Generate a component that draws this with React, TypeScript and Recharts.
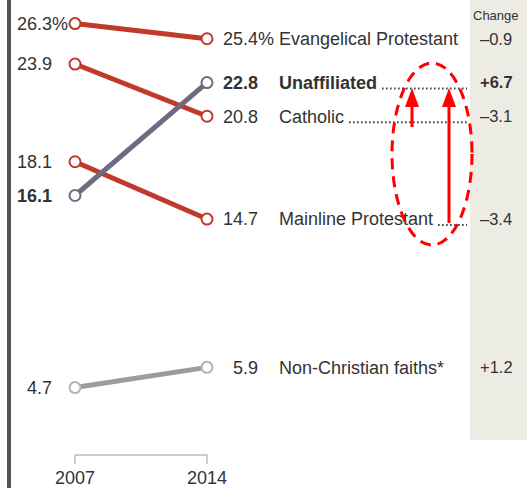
import { LineChart, Line, XAxis, YAxis, LabelList } from "recharts";

const years = [2007, 2014];
const groups = [
  "Evangelical Protestant",
  "Unaffiliated",
  "Catholic",
  "Mainline Protestant",
  "Non-Christian faiths*",
];
const evangelical = [26.3, 25.4];
const unaffiliated = [16.1, 22.8];
const catholic = [23.9, 20.8];
const mainline = [18.1, 14.7];
const nonChristian = [4.7, 5.9];
const changes = ["–0.9", "+6.7", "–3.1", "–3.4", "+1.2"];
const hasLeader = [false, true, true, true, false];

const keys = ["evangelical", "unaffiliated", "catholic", "mainline", "nonChristian"];
const values = [evangelical, unaffiliated, catholic, mainline, nonChristian];

const data = years.map((year, i) => {
  const row: Record<string, number | string> = { year: String(year) };
  keys.forEach((k, s) => {
    row[k] = values[s][i];
  });
  return row;
});

const RED = "#c0392b";
const lineColors = [RED, "#6e6a80", RED, RED, "#9c9c9c"];
const dotColors = [RED, "#6e6a80", RED, RED, "#b3b3b3"];

const FONT = '"Liberation Sans", Arial, sans-serif';
const TEXT = "#333";
const SIZE = 18;

let ctx: CanvasRenderingContext2D | null = null;
function textWidth(t: string, bold: boolean) {
  if (!ctx) ctx = document.createElement("canvas").getContext("2d");
  if (!ctx) return t.length * 9;
  ctx.font = `${bold ? 700 : 400} ${SIZE}px ${FONT}`;
  return ctx.measureText(t).width;
}

function makeLabel(s: number) {
  return (props: any) => {
    const { x, y, value, index } = props;
    const bold = s === 1;
    const common = {
      y,
      dy: "0.35em",
      fontSize: SIZE,
      fontFamily: FONT,
      fill: TEXT,
      fontWeight: bold ? 700 : 400,
    };
    const pct = s === 0;
    if (index === 0) {
      return (
        <g>
          <text {...common} x={x - 23} textAnchor="end">
            {Number(value).toFixed(1)}
          </text>
          {pct && (
            <text {...common} x={x - 23} fontWeight={400}>
              %
            </text>
          )}
        </g>
      );
    }
    const nameX = x + 72;
    const nameW = textWidth(groups[s], bold);
    return (
      <g>
        <text {...common} x={x + 51} textAnchor="end">
          {Number(value).toFixed(1)}
        </text>
        {pct && (
          <text {...common} x={x + 51} fontWeight={400}>
            %
          </text>
        )}
        <text {...common} x={nameX}>
          {groups[s]}
        </text>
        {hasLeader[s] && (
          <line
            x1={nameX + nameW + 5}
            x2={x + 260}
            y1={y + 6}
            y2={y + 6}
            stroke="#444"
            strokeWidth={2}
            strokeDasharray="1.6 2.4"
          />
        )}
        <text {...common} x={x + 273} fontSize={16.5}>
          {changes[s]}
        </text>
      </g>
    );
  };
}

// unaffiliated drawn last so it sits over the red lines
const drawOrder = [0, 2, 3, 4, 1];

export default function App() {
  return (
    <div style={{ position: "absolute", left: 0, top: 0, width: 527, height: 488, background: "#fff" }}>
      <div style={{ position: "absolute", left: 470, top: 0, width: 57, height: 440, background: "#edece4" }} />
      <div style={{ position: "absolute", left: 7, top: 0, width: 4, height: 488, background: "#555" }} />
      <div
        style={{
          position: "absolute",
          left: 473,
          top: 8,
          fontSize: 13,
          fontFamily: FONT,
          color: TEXT,
          whiteSpace: "nowrap",
        }}
      >
        Change
      </div>
      <div style={{ position: "absolute", left: 0, top: 0 }}>
        <LineChart width={527} height={488} data={data} margin={{ top: 0, right: 320, bottom: 0, left: 75 }}>
          <XAxis
            dataKey="year"
            height={33}
            tickSize={9}
            tickMargin={7}
            axisLine={{ stroke: "#999" }}
            tickLine={{ stroke: "#999" }}
            tick={{ fontSize: SIZE, fill: TEXT, fontFamily: FONT }}
          />
          <YAxis hide type="number" domain={[0.7, 27.7]} allowDataOverflow />
          {drawOrder.map((s) => (
            <Line
              key={keys[s]}
              dataKey={keys[s]}
              stroke={lineColors[s]}
              strokeWidth={5}
              dot={{ r: 5.5, fill: "#fff", stroke: dotColors[s], strokeWidth: 2 }}
              activeDot={false}
              isAnimationActive={false}
            >
              <LabelList dataKey={keys[s]} content={makeLabel(s)} />
            </Line>
          ))}
        </LineChart>
      </div>
      <svg
        width={527}
        height={488}
        style={{ position: "absolute", left: 0, top: 0, pointerEvents: "none" }}
      >
        <ellipse cx={432} cy={154} rx={40} ry={91} fill="none" stroke="#ff0000" strokeWidth={3} strokeDasharray="11 7" />
        <line x1={412} y1={127} x2={412} y2={104} stroke="#ff0000" strokeWidth={3} />
        <polygon points="412,88 405,107 419,107" fill="#ff0000" />
        <line x1={449} y1={223} x2={449} y2={104} stroke="#ff0000" strokeWidth={3} />
        <polygon points="449,88 442,107 456,107" fill="#ff0000" />
      </svg>
    </div>
  );
}
